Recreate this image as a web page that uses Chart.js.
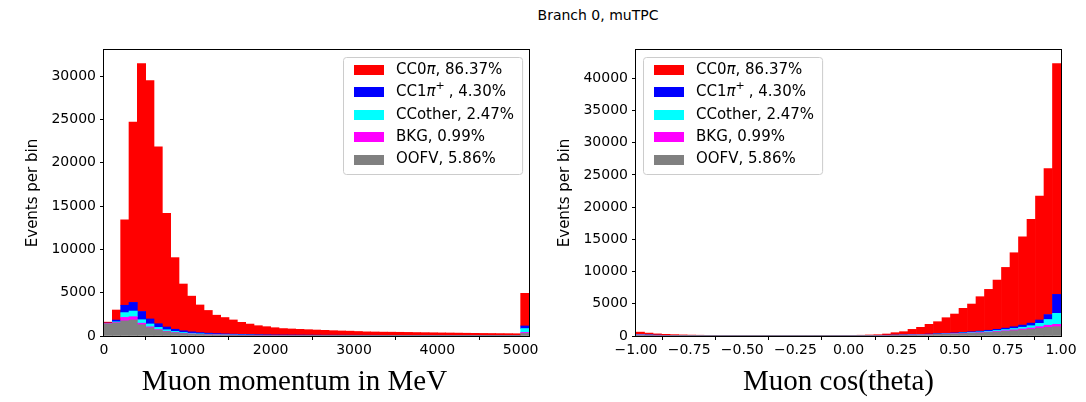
<!DOCTYPE html>
<html>
<head>
<meta charset="utf-8">
<title>Branch 0, muTPC</title>
<script src="https://cdn.jsdelivr.net/npm/chart.js@4.4.1/dist/chart.umd.min.js"></script>
<style>
  html, body { margin: 0; padding: 0; background: #fff; }
  #fig { position: relative; width: 1086px; height: 402px; overflow: hidden; }
  #fig canvas { position: absolute; top: 0; }
  #suptitle { position: absolute; top: 6px; left: 448px; width: 300px; text-align: center;
              font: 14px "DejaVu Sans", sans-serif; line-height: 18px; color: #000; }
</style>
</head>
<body>
<div id="fig">
  <div id="suptitle">Branch 0, muTPC</div>
  <canvas id="momentum" width="543" height="402" style="left:0"></canvas>
  <canvas id="costheta" width="543" height="402" style="left:543px"></canvas>
</div>
<script>
// channels, bottom of the stack first
const channels = ['OOFV', 'BKG', 'CCother', 'CC1pi', 'CC0pi'];
const channelColors = ['#808080', '#ff00ff', '#00ffff', '#0000ff', '#ff0000'];
const channelShares = ['5.86%', '0.99%', '2.47%', '4.30%', '86.37%'];
const channelLabelParts = {
  OOFV: [['OOFV', 'n']],
  BKG: [['BKG', 'n']],
  CCother: [['CCother', 'n']],
  CC1pi: [['CC1', 'n'], ['\u03c0', 'i'], ['+', 's']],
  CC0pi: [['CC0', 'n'], ['\u03c0', 'i']]
};

// muon momentum, 100 MeV bins from 0 to 5100 (last bin holds the overflow)
const momBinStart = 0;
const momBinWidth = 100;
const momOOFV = [1400, 1500, 1750, 1850, 1300, 950, 680, 500, 370, 280,
  220, 180, 150, 125, 105, 90, 80, 70, 62, 56,
  52, 48, 46, 44, 42, 40, 39, 38, 37, 36,
  35, 34, 33, 32, 31, 30, 29, 28, 27, 26,
  25, 25, 24, 24, 23, 23, 22, 22, 21, 21, 300];
const momBKG = [40, 60, 400, 380, 180, 110, 70, 50, 35, 28,
  22, 18, 15, 13, 12, 11, 10, 10, 9, 9,
  9, 8, 8, 8, 8, 7, 7, 7, 7, 7,
  6, 6, 6, 6, 6, 6, 5, 5, 5, 5,
  5, 5, 5, 5, 4, 4, 4, 4, 4, 4, 110];
const momCCother = [20, 80, 550, 650, 400, 330, 240, 170, 125, 95,
  75, 60, 50, 44, 38, 34, 30, 27, 24, 22,
  20, 19, 18, 18, 17, 17, 16, 16, 16, 15,
  15, 15, 14, 14, 14, 13, 13, 13, 12, 12,
  12, 12, 11, 11, 11, 11, 10, 10, 10, 10, 450];
const momCC1pi = [30, 200, 850, 1000, 950, 580, 430, 320, 250, 200,
  165, 135, 115, 100, 88, 78, 70, 62, 56, 51,
  47, 44, 42, 40, 38, 36, 35, 34, 32, 31,
  30, 29, 28, 27, 26, 26, 25, 24, 24, 23,
  22, 22, 21, 21, 20, 20, 19, 19, 18, 18, 300];
const momCC0pi = [110, 1160, 9850, 20820, 28620, 27530, 20430, 13110, 8270, 5400,
  4120, 3190, 2620, 2120, 1890, 1640, 1390, 1210, 1040, 940,
  830, 740, 700, 660, 625, 590, 555, 520, 490, 470,
  435, 395, 385, 370, 365, 355, 345, 330, 320, 310,
  295, 285, 275, 260, 250, 240, 235, 225, 220, 210, 3770];
const momXTicks = [0, 1000, 2000, 3000, 4000, 5000];
const momYTicks = [0, 5000, 10000, 15000, 20000, 25000, 30000];

// muon cos(theta), 50 bins of 0.04 from -1 to 1
const cosBinStart = -1;
const cosBinWidth = 0.04;
const cosOOFV = [150, 110, 85, 70, 55, 45, 38, 32, 28, 25,
  22, 20, 18, 16, 15, 14, 13, 13, 13, 13,
  14, 15, 17, 20, 32, 38, 45, 55, 70, 85,
  105, 125, 150, 175, 205, 240, 280, 320, 370, 420,
  480, 550, 630, 720, 825, 930, 1035, 1190, 1345, 1450];
const cosBKG = [20, 15, 11, 8, 6, 5, 4, 3, 2, 2,
  2, 2, 2, 2, 2, 2, 2, 2, 2, 2,
  2, 2, 2, 2, 2, 3, 3, 4, 5, 6,
  8, 10, 12, 15, 18, 22, 27, 33, 40, 48,
  58, 70, 85, 105, 130, 160, 200, 260, 330, 360];
const cosCCother = [30, 22, 16, 12, 9, 7, 6, 5, 3, 3,
  3, 3, 3, 3, 3, 3, 3, 3, 3, 3,
  3, 3, 3, 3, 4, 5, 6, 8, 10, 12,
  15, 18, 22, 27, 33, 40, 48, 57, 68, 80,
  95, 115, 140, 170, 210, 270, 360, 515, 880, 1705];
const cosCC1pi = [40, 30, 22, 16, 12, 10, 8, 6, 4, 4,
  4, 4, 4, 4, 4, 4, 4, 4, 4, 4,
  4, 4, 4, 4, 5, 6, 8, 10, 12, 16,
  20, 25, 31, 38, 46, 55, 65, 78, 92, 110,
  130, 155, 185, 225, 270, 330, 400, 515, 775, 2945];
const cosCC0pi = [360, 275, 195, 155, 128, 103, 84, 74, 63, 51,
  44, 36, 31, 27, 24, 22, 20, 18, 18, 18,
  19, 21, 24, 31, 32, 43, 58, 83, 103, 191,
  367, 492, 815, 1090, 1508, 1863, 2420, 2922, 3720, 4302,
  5337, 6345, 7640, 9425, 11485, 13710, 16095, 19220, 22670, 35810];
const cosXTicks = [-1, -0.75, -0.5, -0.25, 0, 0.25, 0.5, 0.75, 1];
const cosYTicks = [0, 5000, 10000, 15000, 20000, 25000, 30000, 35000, 40000];

const SANS = '"DejaVu Sans", sans-serif';

function runFont(style) {
  if (style === 'i') return 'italic 15px ' + SANS;
  if (style === 's') return '11px ' + SANS;
  return '15px ' + SANS;
}

// draws (or just measures) a legend label made of plain/italic/superscript runs
function drawRuns(ctx, runs, x, y, measureOnly) {
  let cx = x;
  for (const [text, style] of runs) {
    ctx.font = runFont(style);
    if (!measureOnly) ctx.fillText(text, cx, style === 's' ? y - 6 : y);
    cx += ctx.measureText(text).width + (style === 's' ? 4 : 0);
  }
  return cx - x;
}

const histDecor = {
  id: 'histDecor',
  afterDraw(chart, args, opts) {
    const {ctx, chartArea: a} = chart;
    ctx.save();

    // axes frame
    ctx.strokeStyle = '#000';
    ctx.lineWidth = 1;
    ctx.strokeRect(a.left - 0.5, a.top - 0.5, a.right - a.left + 1, a.bottom - a.top + 1);

    // x label
    ctx.fillStyle = '#000';
    ctx.font = '29px "Liberation Serif", serif';
    ctx.textAlign = 'center';
    ctx.textBaseline = 'middle';
    ctx.fillText(opts.xLabel, opts.xLabelX, 382);

    // legend, top channel first
    const rows = chart.data.datasets.slice().reverse();
    ctx.textAlign = 'left';
    const runsOf = ds => ds.labelParts.concat([[', ' + ds.share, 'n']]);
    const textW = Math.max(...rows.map(ds => drawRuns(ctx, runsOf(ds), 0, 0, true)));
    const boxW = 11 + 30 + 12 + textW + 8;
    const boxH = 117;
    const x0 = opts.legendSide === 'right' ? Math.round(a.right - 7 - boxW) : a.left + 7;
    const y0 = a.top + 7;
    ctx.beginPath();
    ctx.roundRect(x0 + 0.5, y0 + 0.5, boxW, boxH, 3);
    ctx.fillStyle = 'rgba(255,255,255,0.8)';
    ctx.fill();
    ctx.strokeStyle = '#cccccc';
    ctx.stroke();
    rows.forEach((ds, r) => {
      const cy = y0 + 13 + r * 22.4;
      ctx.fillStyle = ds.backgroundColor;
      ctx.fillRect(x0 + 11, Math.round(cy - 5), 30, 10);
      ctx.fillStyle = '#000';
      drawRuns(ctx, runsOf(ds), x0 + 53, cy, false);
    });
    ctx.restore();
  }
};

function makeHist(canvasId, cfg) {
  const centers = cfg.counts[0].map((_, i) => cfg.binStart + (i + 0.5) * cfg.binWidth);
  const datasets = channels.map((name, k) => ({
    label: name,
    labelParts: channelLabelParts[name],
    share: channelShares[k],
    data: centers.map((x, i) => ({x: x, y: cfg.counts[k][i]})),
    backgroundColor: channelColors[k],
    borderWidth: 0,
    barPercentage: 1,
    categoryPercentage: 1
  }));
  const totals = centers.map((_, i) => cfg.counts.reduce((s, c) => s + c[i], 0));
  const tickFont = {family: SANS, size: 14};

  return new Chart(document.getElementById(canvasId), {
    type: 'bar',
    data: {datasets: datasets},
    options: {
      responsive: false,
      animation: false,
      devicePixelRatio: 1,
      layout: {padding: cfg.padding},
      plugins: {
        legend: {display: false},
        tooltip: {enabled: false},
        histDecor: {xLabel: cfg.xLabel, xLabelX: cfg.xLabelX, legendSide: cfg.legendSide}
      },
      scales: {
        x: {
          type: 'linear',
          stacked: true,
          offset: false,
          min: cfg.xMin,
          max: cfg.xMax,
          afterFit: s => { s.height = 66; },
          afterBuildTicks: s => { s.ticks = cfg.xTicks.map(v => ({value: v})); },
          grid: {display: true, drawOnChartArea: false, drawTicks: true, tickLength: 4, color: '#000'},
          border: {display: false},
          ticks: {font: tickFont, color: '#000', padding: 2, maxRotation: 0, autoSkip: false,
                  callback: cfg.xFormat}
        },
        y: {
          stacked: true,
          min: 0,
          max: Math.max(...totals) * 1.05,
          afterFit: s => { s.width = cfg.yAxisWidth; },
          afterBuildTicks: s => { s.ticks = cfg.yTicks.map(v => ({value: v})); },
          grid: {display: true, drawOnChartArea: false, drawTicks: true, tickLength: 4, color: '#000'},
          border: {display: false},
          ticks: {font: tickFont, color: '#000', padding: 4, callback: v => String(v)},
          title: {display: true, text: 'Events per bin', color: '#000',
                  font: {family: SANS, size: 15}, padding: {top: cfg.yTitlePad, bottom: 0}}
        }
      }
    },
    plugins: [histDecor]
  });
}

makeHist('momentum', {
  counts: [momOOFV, momBKG, momCCother, momCC1pi, momCC0pi],
  binStart: momBinStart,
  binWidth: momBinWidth,
  xMin: 0,
  xMax: 5100,
  xTicks: momXTicks,
  yTicks: momYTicks,
  xFormat: v => String(v),
  xLabel: 'Muon momentum in MeV',
  xLabelX: 294.5,
  legendSide: 'right',
  padding: {top: 50, right: 14, bottom: 0, left: 0},
  yAxisWidth: 104,
  yTitlePad: 24
});

makeHist('costheta', {
  counts: [cosOOFV, cosBKG, cosCCother, cosCC1pi, cosCC0pi],
  binStart: cosBinStart,
  binWidth: cosBinWidth,
  xMin: -1,
  xMax: 1,
  xTicks: cosXTicks,
  yTicks: cosYTicks,
  xFormat: v => v.toFixed(2).replace('-', '\u2212'),
  xLabel: 'Muon cos(theta)',
  xLabelX: 295.5,
  legendSide: 'left',
  padding: {top: 50, right: 25, bottom: 0, left: 0},
  yAxisWidth: 93,
  yTitlePad: 13
});
</script>
</body>
</html>
